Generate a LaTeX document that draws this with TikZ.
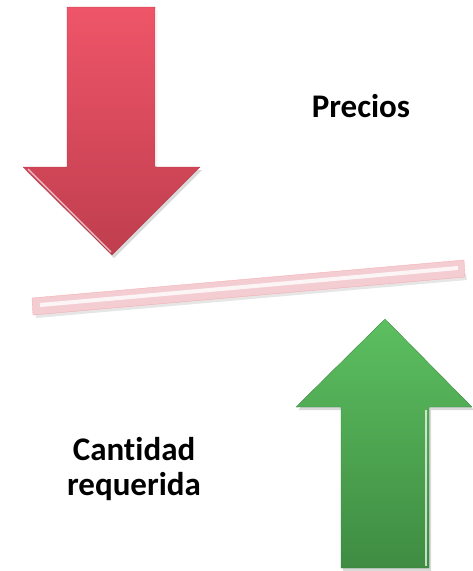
\documentclass[tikz,border=0pt]{standalone}
\usepackage{fontspec}
\setmainfont{Carlito}[Ligatures=NoCommon]
\usetikzlibrary{shadows}

\definecolor{redtop}{HTML}{EF5569}
\definecolor{redbot}{HTML}{BF3E4E}
\definecolor{greentop}{HTML}{5CBF60}
\definecolor{greenbot}{HTML}{3F8C42}
\definecolor{barpink}{HTML}{F4CDD2}

\tikzset{
  label/.style={font=\bfseries\fontsize{33}{35}\selectfont,align=center,inner sep=0pt},
  redarrow/.style={top color=redtop,bottom color=redbot,draw=redbot!90!black,line width=0.3pt,
    drop shadow={shadow xshift=2pt,shadow yshift=-3pt,opacity=0.3}},
  greenarrow/.style={top color=greentop,bottom color=greenbot,draw=greenbot!90!black,line width=0.3pt,
    drop shadow={shadow xshift=2pt,shadow yshift=-3pt,opacity=0.3}},
  bevel/.style={white,line width=1.2pt,opacity=0.7}
}

\begin{document}
\begin{tikzpicture}[x=1pt,y=-1pt]
  \useasboundingbox (0,0) rectangle (472,571);
  % precios baja
  \path[redarrow] (67,7) -- (155,7) -- (155,167) -- (200,167) -- (112,255)
    -- (23,167) -- (67,167) -- cycle;
  \draw[bevel] (156,9) -- (156,166);
  \draw[bevel] (28,169) -- (111,252);
  % cantidad sube
  \path[greenarrow] (385,319) -- (472,407) -- (429,407) -- (429,568) -- (341,568)
    -- (341,407) -- (296,407) -- cycle;
  \draw[bevel] (426,410) -- (426,566);
  % balanza
  \path[fill=gray,opacity=0.2] (35,312) -- (466,274) -- (467,280) -- (36,318) -- cycle;
  \path[fill=barpink,draw=barpink!80!red,line width=0.3pt] (32,298) -- (464,260) -- (465,277) -- (33,315) -- cycle;
  \draw[white,line width=4pt,opacity=0.8] (40,305) -- (458,268);
  \node[label] (precios) at (361,106) {Precios};
  \node[label] (cantidad) at (134,469) {Cantidad\\requerida};
\end{tikzpicture}
\end{document}
